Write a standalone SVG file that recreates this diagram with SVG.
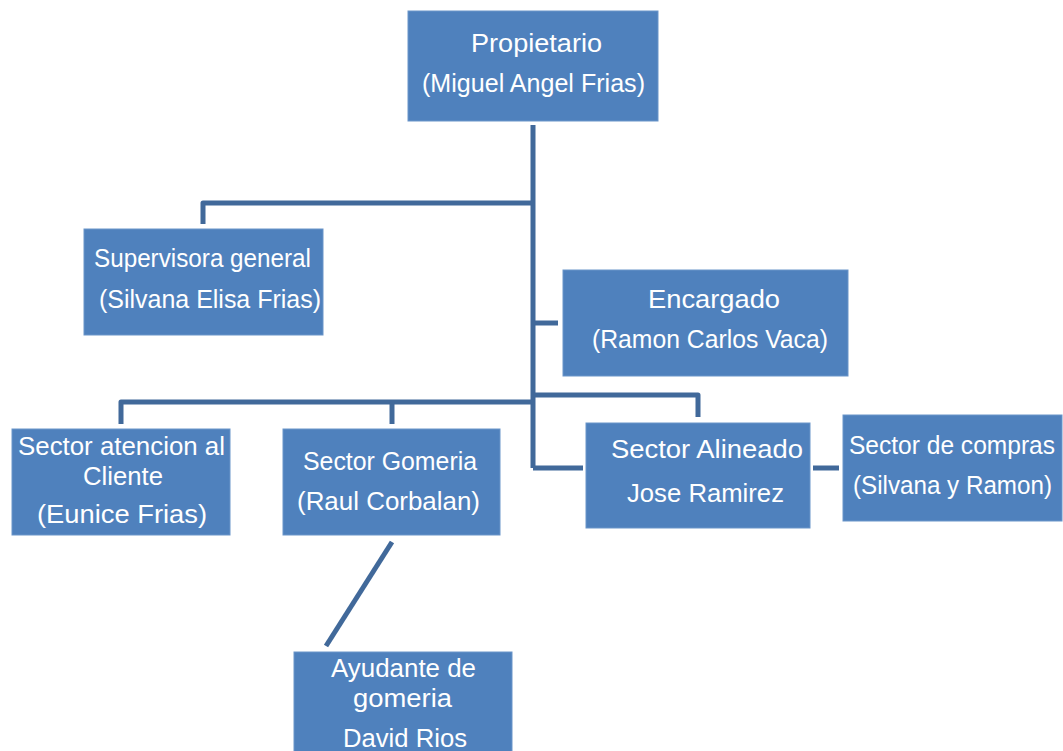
<svg xmlns="http://www.w3.org/2000/svg" width="1063" height="751" viewBox="0 0 1063 751">
<style>
.box{fill:#4F81BD;stroke:#6A95C9;stroke-width:1}
.t{font-family:"Liberation Sans",Arial,sans-serif;font-size:25px;fill:#FFFFFF;text-anchor:middle}
.c{fill:none;stroke:#41699A;stroke-width:5;stroke-linejoin:round}
</style>
<rect width="1063" height="751" fill="#FFFFFF"/>
<g id="connectors">
<path class="c" d="M533,125 V468"/>
<path class="c" d="M203,224 V203 H533"/>
<path class="c" d="M533,323 H558"/>
<path class="c" d="M121,424 V402 H533"/>
<path class="c" d="M392,402 V424"/>
<path class="c" d="M533,395 H698 V417"/>
<path class="c" d="M533,468 H583"/>
<path class="c" d="M813,468 H839"/>
<path class="c" d="M392,542 L326,646"/>
</g>
<g id="propietario">
<rect class="box" x="408" y="11" width="250" height="110"/>
<text class="t" x="536.5" y="52" textLength="131" lengthAdjust="spacingAndGlyphs">Propietario</text>
<text class="t" x="533.5" y="92" textLength="223" lengthAdjust="spacingAndGlyphs">(Miguel Angel Frias)</text>
</g>
<g id="supervisora">
<rect class="box" x="84" y="229" width="239" height="106"/>
<text class="t" x="202.5" y="267" textLength="217" lengthAdjust="spacingAndGlyphs">Supervisora general</text>
<text class="t" x="210" y="308" textLength="222" lengthAdjust="spacingAndGlyphs">(Silvana Elisa Frias)</text>
</g>
<g id="encargado">
<rect class="box" x="563" y="270" width="285" height="106"/>
<text class="t" x="714" y="308" textLength="132" lengthAdjust="spacingAndGlyphs">Encargado</text>
<text class="t" x="710" y="348" textLength="236" lengthAdjust="spacingAndGlyphs">(Ramon Carlos Vaca)</text>
</g>
<g id="atencion">
<rect class="box" x="12" y="429" width="218" height="106"/>
<text class="t" x="121.5" y="455" textLength="207" lengthAdjust="spacingAndGlyphs">Sector atencion al</text>
<text class="t" x="123" y="485" textLength="80" lengthAdjust="spacingAndGlyphs">Cliente</text>
<text class="t" x="122" y="523" textLength="170" lengthAdjust="spacingAndGlyphs">(Eunice Frias)</text>
</g>
<g id="gomeria">
<rect class="box" x="283" y="429" width="217" height="106"/>
<text class="t" x="390" y="470" textLength="174" lengthAdjust="spacingAndGlyphs">Sector Gomeria</text>
<text class="t" x="388.5" y="510" textLength="183" lengthAdjust="spacingAndGlyphs">(Raul Corbalan)</text>
</g>
<g id="alineado">
<rect class="box" x="586" y="423" width="224" height="105"/>
<text class="t" x="707" y="458" textLength="192" lengthAdjust="spacingAndGlyphs">Sector Alineado</text>
<text class="t" x="705.5" y="502" textLength="157" lengthAdjust="spacingAndGlyphs">Jose Ramirez</text>
</g>
<g id="compras">
<rect class="box" x="843" y="415" width="219" height="106"/>
<text class="t" x="952" y="454" textLength="206" lengthAdjust="spacingAndGlyphs">Sector de compras</text>
<text class="t" x="952.5" y="494" textLength="199" lengthAdjust="spacingAndGlyphs">(Silvana y Ramon)</text>
</g>
<g id="ayudante">
<rect class="box" x="294" y="652" width="218" height="110"/>
<text class="t" x="403.5" y="677" textLength="145" lengthAdjust="spacingAndGlyphs">Ayudante de</text>
<text class="t" x="402.5" y="707" textLength="99" lengthAdjust="spacingAndGlyphs">gomeria</text>
<text class="t" x="405" y="747" textLength="124" lengthAdjust="spacingAndGlyphs">David Rios</text>
</g>
</svg>
